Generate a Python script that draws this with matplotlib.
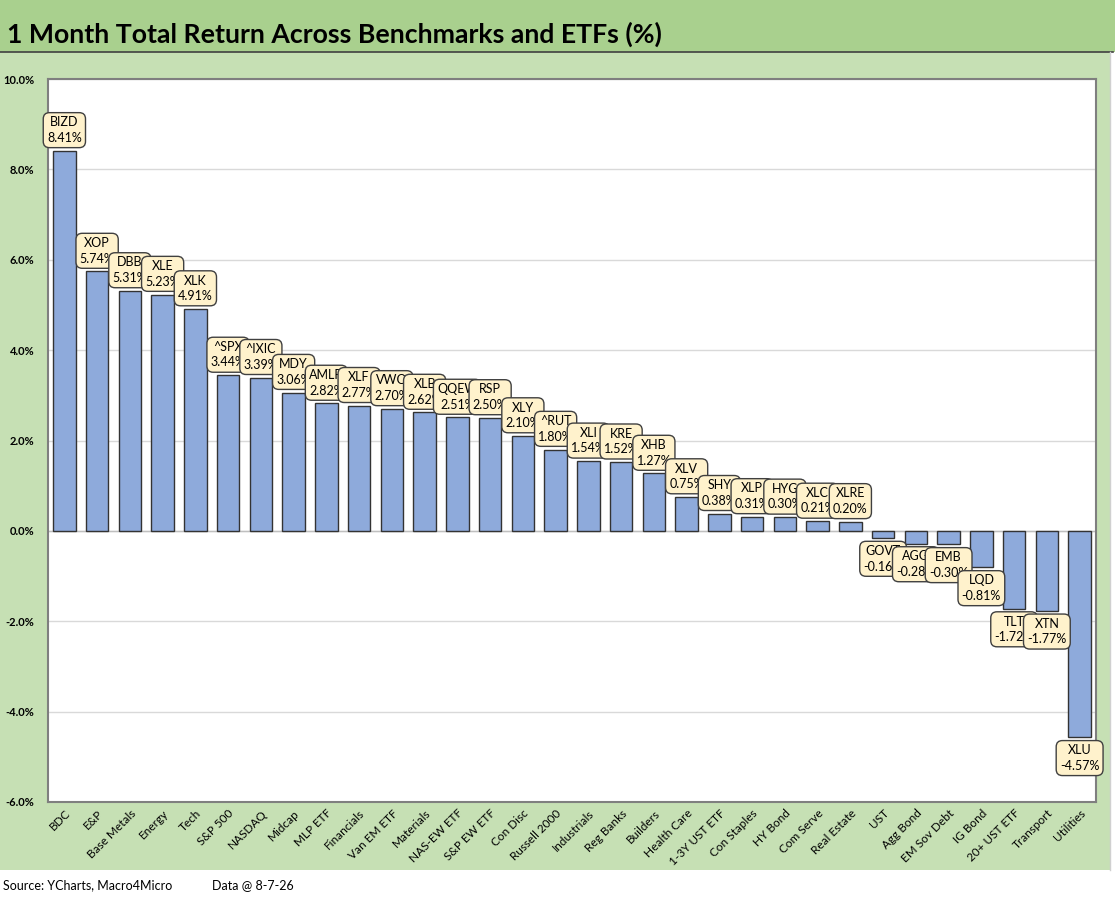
import numpy as np
import matplotlib.pyplot as plt
from matplotlib.patches import Rectangle

plt.rcParams['font.family'] = ['Lato', 'DejaVu Sans']

categories = ['BDC', 'E&P', 'Base Metals', 'Energy', 'Tech', 'S&P 500', 'NASDAQ', 'Midcap',
              'MLP ETF', 'Financials', 'Van EM ETF', 'Materials', 'NAS-EW ETF', 'S&P EW ETF',
              'Con Disc', 'Russell 2000', 'Industrials', 'Reg Banks', 'Builders', 'Health Care',
              '1-3Y UST ETF', 'Con Staples', 'HY Bond', 'Com Serve', 'Real Estate', 'UST',
              'Agg Bond', 'EM Sov Debt', 'IG Bond', '20+ UST ETF', 'Transport', 'Utilities']
tickers = ['BIZD', 'XOP', 'DBB', 'XLE', 'XLK', '^SPX', '^IXIC', 'MDY', 'AMLP', 'XLF', 'VWO',
           'XLB', 'QQEW', 'RSP', 'XLY', '^RUT', 'XLI', 'KRE', 'XHB', 'XLV', 'SHY', 'XLP',
           'HYG', 'XLC', 'XLRE', 'GOVT', 'AGG', 'EMB', 'LQD', 'TLT', 'XTN', 'XLU']
returns = [8.41, 5.74, 5.31, 5.23, 4.91, 3.44, 3.39, 3.06, 2.82, 2.77, 2.70, 2.62, 2.51, 2.50,
           2.10, 1.80, 1.54, 1.52, 1.27, 0.75, 0.38, 0.31, 0.30, 0.21, 0.20, -0.16, -0.28,
           -0.30, -0.81, -1.72, -1.77, -4.57]
yticks = [-6, -4, -2, 0, 2, 4, 6, 8, 10]

W, H = 1115, 900
fig = plt.figure(figsize=(W / 100, H / 100), dpi=100, facecolor='white')

# background bands (sheet look)
fig.patches.append(Rectangle((0, 30 / H), 1110 / W, (868 - 30) / H, transform=fig.transFigure,
                             facecolor='#c6e0b4', edgecolor='none', zorder=-2))
fig.patches.append(Rectangle((0, 1 - 52 / H), 1, 52 / H, transform=fig.transFigure,
                             facecolor='#a9d08e', edgecolor='none', zorder=-2))
fig.lines.append(plt.Line2D([0, 1113 / W], [1 - 52 / H, 1 - 52 / H], transform=fig.transFigure,
                            color='#404040', lw=1.2, zorder=-1))
fig.lines.append(plt.Line2D([1110 / W, 1110 / W], [30 / H, 1 - 52 / H], transform=fig.transFigure,
                            color='#d0d0d0', lw=1, zorder=-1))

fig.text(7 / W, 1 - 34 / H, '1 Month Total Return Across Benchmarks and ETFs (%)',
         fontsize=19.2, fontweight='bold', va='center', ha='left', color='black')

ax = fig.add_axes([48 / W, 1 - 802 / H, (1096 - 48) / W, (802 - 79) / H])
ax.set_facecolor('white')

x = np.arange(len(categories))
ax.bar(x, returns, width=0.68, color='#8eaadb', edgecolor='#333333', linewidth=1, zorder=3)

for i, (t, v) in enumerate(zip(tickers, returns)):
    if v >= 0:
        off, va = 5, 'bottom'
    else:
        off, va = -5, 'top'
    ax.annotate(f'{t}\n{v:.2f}%', xy=(i, v), xytext=(0, off), textcoords='offset points',
                ha='center', va=va, fontsize=9, linespacing=1.35, zorder=4 + i,
                bbox=dict(boxstyle='round,pad=0.3,rounding_size=0.5', facecolor='#fff2cc',
                          edgecolor='#404040', linewidth=1))

ax.set_xlim(-0.5, len(categories) - 0.5)
ax.set_ylim(-6, 10)
ax.set_yticks(yticks)
ax.set_yticklabels([f'{t:.1f}%' for t in yticks], fontsize=8, fontweight='bold')
ax.yaxis.grid(True, color='#d9d9d9', linewidth=1, zorder=0)
ax.axhline(0, color='#bfbfbf', linewidth=1, zorder=2)
ax.tick_params(axis='y', length=0, pad=10)
ax.tick_params(axis='x', length=0, pad=4)
ax.set_xticks(x)
ax.set_xticklabels(categories, rotation=45, ha='right', rotation_mode='anchor', fontsize=8.5)
for s in ax.spines.values():
    s.set_color('#7f7f7f')
    s.set_linewidth(1.5)

fig.text(3 / W, 1 - 885 / H, 'Source: YCharts, Macro4Micro', fontsize=9, va='center', ha='left')
fig.text(212 / W, 1 - 885 / H, 'Data @ 8-7-26', fontsize=9, va='center', ha='left')

fig.savefig('out.png', dpi=100, facecolor='white')
